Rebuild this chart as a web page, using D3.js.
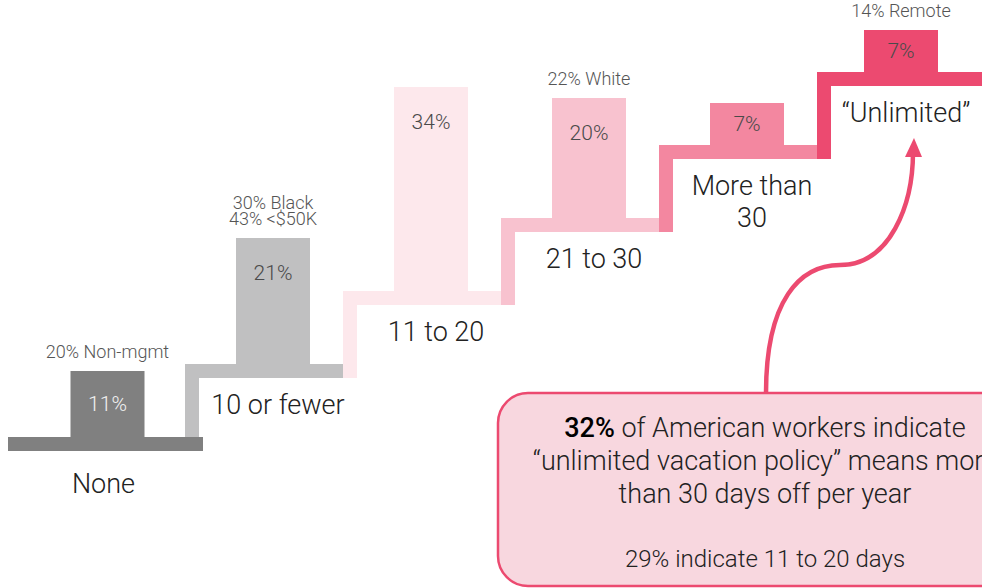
<!DOCTYPE html>
<html>
<head>
<meta charset="utf-8">
<script src="https://cdn.jsdelivr.net/npm/d3@7"></script>
<style>
  body { margin: 0; background: #fff; }
  svg { display: block; font-family: Roboto, "Liberation Sans", sans-serif; font-weight: 300; }
</style>
</head>
<body>
<script>
// Data
const categories = ["None", "10 or fewer", "11 to 20", "21 to 30", "More than 30", "Unlimited"];
const labelLines = [["None"], ["10 or fewer"], ["11 to 20"], ["21 to 30"], ["More than", "30"], ["\u201cUnlimited\u201d"]];
const shares = [11, 21, 34, 20, 7, 7];
const notes = [["20% Non-mgmt"], ["30% Black", "43% <$50K"], [], ["22% White"], [], ["14% Remote"]];
const calloutLines = ["of American workers indicate", "\u201cunlimited vacation policy\u201d means more", "than 30 days off per year"];
const calloutShare = "32%";
const calloutFoot = "29% indicate 11 to 20 days";

const stepColors = ["#808080", "#c0c0c1", "#fde8ec", "#f8c2cf", "#f387a0", "#ec4a70"];

const W = 982, H = 588;
const thick = 14;   // stair tread thickness
const riser = 14;   // stair riser width
const colW = 74;

const svg = d3.select("body")
    .append("svg")
    .attr("width", W)
    .attr("height", H);

// Scales
const x = d3.scaleBand().domain(categories).range([27, 975]);
const yStep = d3.scalePoint().domain(categories).range([437, 72]);
const h = d3.scaleLinear().domain([0, 10]).range([0, 60]);
const color = d3.scaleOrdinal(categories, stepColors);

const bw = x.bandwidth();
const last = categories.length - 1;
const steps = categories.map((c, i) => {
    const left = i === 0 ? x(c) - 19 : x(c);
    const right = i === 0 ? x(categories[1]) + 18 : (i === last ? W : x(c) + bw);
    const innerL = i === 0 ? left : x(c) + riser;
    const innerR = i === 0 ? right : x(c) + bw;
    return {
        cat: c, i, left, right,
        cx: (innerL + innerR) / 2 + (i === last ? -2 : 2),
        top: yStep(c),
        prevBottom: i === 0 ? null : yStep(categories[i - 1]) + thick,
        value: shares[i], note: notes[i], lines: labelLines[i]
    };
});

// Stairs, drawn last-to-first so the lower treads sit on top
const stair = svg.append("g").selectAll(".step")
    .data(steps.slice().reverse())
    .enter()
    .append("g")
    .attr("class", "step");

stair.append("rect")
    .attr("x", d => d.left)
    .attr("y", d => d.top)
    .attr("width", d => d.right - d.left)
    .attr("height", thick)
    .attr("fill", d => color(d.cat));

stair.filter(d => d.i > 0).append("rect")
    .attr("x", d => d.left)
    .attr("y", d => d.top)
    .attr("width", riser)
    .attr("height", d => d.prevBottom - d.top)
    .attr("fill", d => color(d.cat));

// Columns
stair.append("rect")
    .attr("x", d => d.cx - colW / 2)
    .attr("y", d => d.top - h(d.value))
    .attr("width", colW)
    .attr("height", d => h(d.value))
    .attr("fill", d => color(d.cat));

stair.append("text")
    .attr("x", d => d.cx)
    .attr("y", d => d.top - h(d.value) + Math.min(35, h(d.value) / 2))
    .attr("dy", "0.35em")
    .attr("text-anchor", "middle")
    .attr("font-size", 21)
    .attr("fill", d => d.i === 0 ? "#f2f2f2" : "#4a4a4a")
    .text(d => d.value + "%");

// Notes above columns
stair.each(function (d) {
    const n = d.note.length;
    d3.select(this).selectAll(".note")
        .data(d.note)
        .enter()
        .append("text")
        .attr("class", "note")
        .attr("x", d.cx)
        .attr("y", (t, k) => d.top - h(d.value) - 13 - (n - 1 - k) * 16)
        .attr("text-anchor", "middle")
        .attr("font-size", 18)
        .attr("fill", "#555")
        .text(t => t);
});

// Category labels under treads
stair.each(function (d) {
    const base = d.top + thick + (d.i === 0 ? 42 : 36);
    d3.select(this).selectAll(".cat")
        .data(d.lines)
        .enter()
        .append("text")
        .attr("class", "cat")
        .attr("x", d.cx + (d.i === 0 ? -4 : 5))
        .attr("y", (t, k) => base + k * 32)
        .attr("text-anchor", "middle")
        .attr("font-size", 27)
        .attr("fill", "#222")
        .text(t => t);
});

// Callout box
const box = { x: 498, y: 393, w: 534, h: 193 };
const cxBox = 765;
svg.append("rect")
    .attr("x", box.x)
    .attr("y", box.y)
    .attr("width", box.w)
    .attr("height", box.h)
    .attr("rx", 30)
    .attr("fill", "#f8d7df")
    .attr("stroke", "#ec4a70")
    .attr("stroke-width", 2.5);

const t1 = svg.append("text")
    .attr("x", cxBox)
    .attr("y", 437)
    .attr("text-anchor", "middle")
    .attr("font-size", 27)
    .attr("fill", "#222");
t1.append("tspan").attr("font-weight", 500).attr("fill", "#000").text(calloutShare);
t1.append("tspan").text(" " + calloutLines[0]);

svg.selectAll(".cl")
    .data(calloutLines.slice(1))
    .enter()
    .append("text")
    .attr("class", "cl")
    .attr("x", cxBox)
    .attr("y", (t, k) => 470 + k * 33)
    .attr("text-anchor", "middle")
    .attr("font-size", 27)
    .attr("fill", "#222")
    .text(t => t);

svg.append("text")
    .attr("x", cxBox)
    .attr("y", 567)
    .attr("text-anchor", "middle")
    .attr("font-size", 24)
    .attr("fill", "#222")
    .text(calloutFoot);

// Curved arrow from the callout up to "Unlimited"
svg.append("path")
    .attr("d", "M766,393 C766,300 800,265 840,265 C890,265 913,205 913,152")
    .attr("fill", "none")
    .attr("stroke", "#ec4a70")
    .attr("stroke-width", 4.5);
svg.append("path")
    .attr("d", "M914,138 L905,157 L922,157 Z")
    .attr("fill", "#ec4a70");
</script>
</body>
</html>
